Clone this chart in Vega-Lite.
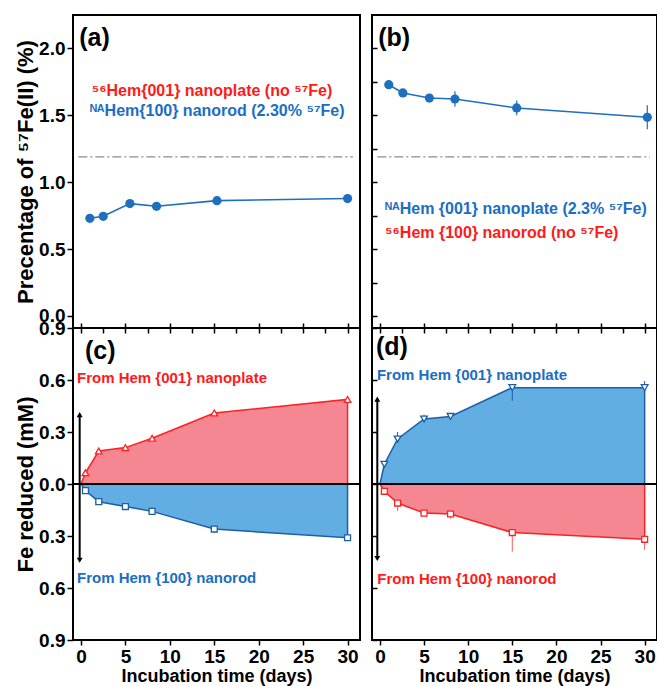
{
  "$schema": "https://vega.github.io/schema/vega-lite/v6.json",
  "padding": {"left": 13, "top": 14, "right": 0, "bottom": 0},
  "config": {
    "font": "Liberation Sans",
    "view": {"stroke": "black", "strokeWidth": 2},
    "axis": {"domain": false, "grid": false, "labelFont": "Liberation Sans", "labelFontSize": 19, "labelFontWeight": "bold", "labelColor": "black", "titleFont": "Liberation Sans", "titleFontSize": 22, "titleFontWeight": "bold", "titleColor": "black", "tickColor": "black", "tickWidth": 1.5, "labelFlush": false}
  },
  "datasets": {
    "a": [{"d": 1, "v": 0.73, "lo": 0.70, "hi": 0.76}, {"d": 2.5, "v": 0.745, "lo": 0.73, "hi": 0.76}, {"d": 5.5, "v": 0.84, "lo": 0.83, "hi": 0.85}, {"d": 8.5, "v": 0.82, "lo": 0.805, "hi": 0.835}, {"d": 15.3, "v": 0.862, "lo": 0.852, "hi": 0.872}, {"d": 30, "v": 0.878, "lo": 0.868, "hi": 0.888}],
    "b": [{"d": 1, "v": 1.729, "lo": 1.71, "hi": 1.75}, {"d": 2.6, "v": 1.667, "lo": 1.652, "hi": 1.682}, {"d": 5.6, "v": 1.629, "lo": 1.6, "hi": 1.655}, {"d": 8.5, "v": 1.622, "lo": 1.565, "hi": 1.68}, {"d": 15.5, "v": 1.555, "lo": 1.5, "hi": 1.61}, {"d": 30.3, "v": 1.485, "lo": 1.395, "hi": 1.575}],
    "ref": [{"d": -0.3, "d2": 30.6, "v": 1.19}],
    "c_plate": [{"d": 0, "v": 0}, {"d": 0.5, "v": 0.065}, {"d": 2, "v": 0.19}, {"d": 5, "v": 0.21}, {"d": 8, "v": 0.264}, {"d": 15, "v": 0.41}, {"d": 30, "v": 0.488}],
    "c_rod": [{"d": 0, "v": 0}, {"d": 0.5, "v": -0.038}, {"d": 2, "v": -0.102}, {"d": 5, "v": -0.13}, {"d": 8, "v": -0.158}, {"d": 15, "v": -0.26}, {"d": 30, "v": -0.31}],
    "d_plate": [{"d": 0, "v": 0}, {"d": 0.5, "v": 0.114}, {"d": 2, "v": 0.26}, {"d": 5, "v": 0.375}, {"d": 8, "v": 0.39}, {"d": 15, "v": 0.556}, {"d": 30, "v": 0.556}],
    "d_rod": [{"d": 0, "v": 0}, {"d": 0.5, "v": -0.042}, {"d": 2, "v": -0.11}, {"d": 5, "v": -0.168}, {"d": 8, "v": -0.173}, {"d": 15, "v": -0.28}, {"d": 30, "v": -0.319}],
    "d_plate_err": [{"d": 2, "lo": 0.24, "hi": 0.3}, {"d": 5, "lo": 0.36, "hi": 0.4}, {"d": 8, "lo": 0.37, "hi": 0.41}, {"d": 15, "lo": 0.48, "hi": 0.556}, {"d": 30, "lo": 0.54, "hi": 0.594}],
    "d_rod_err": [{"d": 2, "lo": -0.156, "hi": -0.11}, {"d": 5, "lo": -0.19, "hi": -0.168}, {"d": 8, "lo": -0.2, "hi": -0.173}, {"d": 15, "lo": -0.39, "hi": -0.28}, {"d": 30, "lo": -0.38, "hi": -0.319}]
  },
  "columns": 2,
  "spacing": {"row": 0, "column": 12},
  "bounds": "flush",
  "concat": [
        {
          "width": 287,
          "height": 313,
          "resolve": {"axis": {"x": "independent", "y": "independent"}},
          "layer": [
            {"data": {"name": "ref"}, "mark": {"type": "rule", "color": "#8c8c8c", "strokeWidth": 1.2, "strokeDash": [9, 3, 2, 3]},
             "encoding": {"x": {"field": "d", "type": "quantitative", "scale": {"domain": [-0.9, 31.4], "nice": false, "zero": false},
                                "axis": {"orient": "bottom", "title": null, "labels": false, "values": [0, 5, 10, 15, 20, 25, 30], "tickSize": 5, "offset": -5, "minExtent": 0, "maxExtent": 0}}, "x2": {"field": "d2"},
                          "y": {"field": "v", "type": "quantitative", "scale": {"domain": [-0.09, 2.25], "nice": false, "zero": false},
                                "axis": {"title": "Precentage of ⁵⁷Fe(II) (%)", "values": [0, 0.5, 1, 1.5, 2], "format": ".1f", "tickSize": 6, "labelPadding": 2, "titlePadding": 1, "minExtent": 35, "maxExtent": 35}}}},
            {"data": {"name": "a"}, "mark": {"type": "line", "color": "#1f6fbf", "strokeWidth": 1.6},
             "encoding": {"x": {"field": "d", "type": "quantitative", "axis": null}, "y": {"field": "v", "type": "quantitative", "axis": null}}},
            {"data": {"name": "a"}, "mark": {"type": "rule", "color": "#1f6fbf", "strokeWidth": 1.2},
             "encoding": {"x": {"field": "d", "type": "quantitative", "axis": null}, "y": {"field": "lo", "type": "quantitative", "axis": null}, "y2": {"field": "hi"}}},
            {"data": {"name": "a"}, "mark": {"type": "point", "filled": true, "color": "#1f6fbf", "size": 85, "opacity": 1},
             "encoding": {"x": {"field": "d", "type": "quantitative", "axis": null}, "y": {"field": "v", "type": "quantitative", "axis": null}}},
            {"data": {"values": [{"d": -0.2, "v": 2.078, "t": "(a)"}]}, "mark": {"type": "text", "align": "left", "baseline": "middle", "fontSize": 25, "fontWeight": "bold", "color": "black"},
             "encoding": {"x": {"field": "d", "type": "quantitative", "axis": null}, "y": {"field": "v", "type": "quantitative", "axis": null}, "text": {"field": "t"}}},
            {"data": {"values": [{"d": 1.2, "v": 1.68, "t": "⁵⁶Hem{001} nanoplate (no ⁵⁷Fe)"}]}, "mark": {"type": "text", "align": "left", "baseline": "middle", "fontSize": 16, "fontWeight": "bold", "color": "#ff1a1a"},
             "encoding": {"x": {"field": "d", "type": "quantitative", "axis": null}, "y": {"field": "v", "type": "quantitative", "axis": null}, "text": {"field": "t"}}},
            {"data": {"values": [{"d": 1.0, "v": 1.53, "t": "ᴺᴬHem{100} nanorod (2.30% ⁵⁷Fe)"}]}, "mark": {"type": "text", "align": "left", "baseline": "middle", "fontSize": 16, "fontWeight": "bold", "color": "#1b6ec2"},
             "encoding": {"x": {"field": "d", "type": "quantitative", "axis": null}, "y": {"field": "v", "type": "quantitative", "axis": null}, "text": {"field": "t"}}}
          ]
        },
        {
          "width": 285,
          "height": 313,
          "resolve": {"axis": {"x": "independent", "y": "independent"}},
          "layer": [
            {"data": {"name": "ref"}, "mark": {"type": "rule", "color": "#8c8c8c", "strokeWidth": 1.2, "strokeDash": [9, 3, 2, 3]},
             "encoding": {"x": {"field": "d", "type": "quantitative", "scale": {"domain": [-0.9, 31.4], "nice": false, "zero": false},
                                "axis": {"orient": "bottom", "title": null, "labels": false, "values": [0, 5, 10, 15, 20, 25, 30], "tickSize": 5, "offset": -5, "minExtent": 0, "maxExtent": 0}}, "x2": {"field": "d2"},
                          "y": {"field": "v", "type": "quantitative", "scale": {"domain": [-0.09, 2.25], "nice": false, "zero": false},
                                "axis": {"title": null, "labels": false, "values": [0, 0.25, 0.5, 0.75, 1, 1.25, 1.5, 1.75, 2], "tickSize": 5, "offset": -5, "minExtent": 0, "maxExtent": 0}}}},
            {"data": {"name": "b"}, "mark": {"type": "line", "color": "#1f6fbf", "strokeWidth": 1.6},
             "encoding": {"x": {"field": "d", "type": "quantitative", "axis": null}, "y": {"field": "v", "type": "quantitative", "axis": null}}},
            {"data": {"name": "b"}, "mark": {"type": "rule", "color": "#1f6fbf", "strokeWidth": 1.2},
             "encoding": {"x": {"field": "d", "type": "quantitative", "axis": null}, "y": {"field": "lo", "type": "quantitative", "axis": null}, "y2": {"field": "hi"}}},
            {"data": {"name": "b"}, "mark": {"type": "point", "filled": true, "color": "#1f6fbf", "size": 85, "opacity": 1},
             "encoding": {"x": {"field": "d", "type": "quantitative", "axis": null}, "y": {"field": "v", "type": "quantitative", "axis": null}}},
            {"data": {"values": [{"d": -0.2, "v": 2.078, "t": "(b)"}]}, "mark": {"type": "text", "align": "left", "baseline": "middle", "fontSize": 25, "fontWeight": "bold", "color": "black"},
             "encoding": {"x": {"field": "d", "type": "quantitative", "axis": null}, "y": {"field": "v", "type": "quantitative", "axis": null}, "text": {"field": "t"}}},
            {"data": {"values": [{"d": 0.57, "v": 0.80, "t": "ᴺᴬHem {001} nanoplate (2.3% ⁵⁷Fe)"}]}, "mark": {"type": "text", "align": "left", "baseline": "middle", "fontSize": 16, "fontWeight": "bold", "color": "#1b6ec2"},
             "encoding": {"x": {"field": "d", "type": "quantitative", "axis": null}, "y": {"field": "v", "type": "quantitative", "axis": null}, "text": {"field": "t"}}},
            {"data": {"values": [{"d": 0.57, "v": 0.62, "t": "⁵⁶Hem {100} nanorod (no ⁵⁷Fe)"}]}, "mark": {"type": "text", "align": "left", "baseline": "middle", "fontSize": 16, "fontWeight": "bold", "color": "#ff1a1a"},
             "encoding": {"x": {"field": "d", "type": "quantitative", "axis": null}, "y": {"field": "v", "type": "quantitative", "axis": null}, "text": {"field": "t"}}}
          ]
        },
        {
          "width": 287,
          "height": 312,
          "resolve": {"axis": {"x": "independent", "y": "independent"}},
          "layer": [
            {"data": {"name": "c_plate"}, "mark": {"type": "area", "color": "#f58793", "opacity": 1, "stroke": "#ff2020", "strokeWidth": 1.5},
             "encoding": {"x": {"field": "d", "type": "quantitative", "scale": {"domain": [-0.9, 31.4], "nice": false, "zero": false},
                                "axis": {"title": "Incubation time (days)", "titleFontSize": 18, "values": [0, 5, 10, 15, 20, 25, 30], "tickSize": 5, "labelPadding": 2, "titlePadding": 1}},
                          "y": {"field": "v", "type": "quantitative", "scale": {"domain": [-0.9, 0.9], "nice": false, "zero": false},
                                "axis": {"title": "Fe reduced (mM)", "values": [-0.9, -0.6, -0.3, 0, 0.3, 0.6, 0.9], "labelExpr": "format(abs(datum.value), '.1f')", "tickSize": 6, "labelPadding": 2, "titlePadding": 1, "minExtent": 35, "maxExtent": 35}},
                          "y2": {"datum": 0}}},
            {"data": {"name": "c_rod"}, "mark": {"type": "area", "color": "#62ade2", "opacity": 1, "stroke": "#1a5fa8", "strokeWidth": 1.5},
             "encoding": {"x": {"field": "d", "type": "quantitative", "axis": null}, "y": {"field": "v", "type": "quantitative", "axis": null}, "y2": {"datum": 0}}},
            {"data": {"values": [{"v": 0}]}, "mark": {"type": "rule", "color": "black", "strokeWidth": 2},
             "encoding": {"y": {"field": "v", "type": "quantitative", "axis": null}}},
            {"data": {"values": [{"d": -0.15, "v1": -0.44, "v2": 0.40}]}, "mark": {"type": "rule", "color": "black", "strokeWidth": 2},
             "encoding": {"x": {"field": "d", "type": "quantitative", "axis": null}, "y": {"field": "v1", "type": "quantitative", "axis": null}, "y2": {"field": "v2"}}},
            {"data": {"values": [{"d": -0.15, "v": 0.40, "dir": "up"}, {"d": -0.15, "v": -0.44, "dir": "down"}]}, "mark": {"type": "point", "filled": true, "color": "black", "size": 35, "opacity": 1},
             "encoding": {"x": {"field": "d", "type": "quantitative", "axis": null}, "y": {"field": "v", "type": "quantitative", "axis": null},
                          "shape": {"field": "dir", "type": "nominal", "scale": {"domain": ["up", "down"], "range": ["triangle-up", "triangle-down"]}, "legend": null}}},
            {"data": {"name": "c_plate"}, "transform": [{"filter": "datum.d > 0"}], "mark": {"type": "point", "shape": "triangle-up", "filled": true, "fill": "white", "stroke": "#ff2020", "strokeWidth": 1.3, "size": 45, "opacity": 1},
             "encoding": {"x": {"field": "d", "type": "quantitative",
                                "axis": {"orient": "top", "title": null, "labels": false, "values": [0, 2.5, 5, 7.5, 10, 12.5, 15, 17.5, 20, 22.5, 25, 27.5, 30], "tickSize": 5, "offset": -5, "minExtent": 0, "maxExtent": 0}},
                          "y": {"field": "v", "type": "quantitative", "axis": null}}},
            {"data": {"name": "c_rod"}, "transform": [{"filter": "datum.d > 0"}], "mark": {"type": "point", "shape": "square", "filled": true, "fill": "white", "stroke": "#1a5fa8", "strokeWidth": 1.3, "size": 35, "opacity": 1},
             "encoding": {"x": {"field": "d", "type": "quantitative", "axis": null}, "y": {"field": "v", "type": "quantitative", "axis": null}}},
            {"data": {"values": [{"d": 0.45, "v": 0.767, "t": "(c)"}]}, "mark": {"type": "text", "align": "left", "baseline": "middle", "fontSize": 25, "fontWeight": "bold", "color": "black"},
             "encoding": {"x": {"field": "d", "type": "quantitative", "axis": null}, "y": {"field": "v", "type": "quantitative", "axis": null}, "text": {"field": "t"}}},
            {"data": {"values": [{"d": -0.45, "v": 0.61, "t": "From Hem {001} nanoplate"}]}, "mark": {"type": "text", "align": "left", "baseline": "middle", "fontSize": 15, "fontWeight": "bold", "color": "#ff1a1a"},
             "encoding": {"x": {"field": "d", "type": "quantitative", "axis": null}, "y": {"field": "v", "type": "quantitative", "axis": null}, "text": {"field": "t"}}},
            {"data": {"values": [{"d": -0.45, "v": -0.54, "t": "From Hem {100} nanorod"}]}, "mark": {"type": "text", "align": "left", "baseline": "middle", "fontSize": 15, "fontWeight": "bold", "color": "#1b6ec2"},
             "encoding": {"x": {"field": "d", "type": "quantitative", "axis": null}, "y": {"field": "v", "type": "quantitative", "axis": null}, "text": {"field": "t"}}}
          ]
        },
        {
          "width": 285,
          "height": 312,
          "resolve": {"axis": {"x": "independent", "y": "independent"}},
          "layer": [
            {"data": {"name": "d_plate"}, "mark": {"type": "area", "color": "#62ade2", "opacity": 1, "stroke": "#1a5fa8", "strokeWidth": 1.5},
             "encoding": {"x": {"field": "d", "type": "quantitative", "scale": {"domain": [-0.9, 31.4], "nice": false, "zero": false},
                                "axis": {"title": "Incubation time (days)", "titleFontSize": 18, "values": [0, 5, 10, 15, 20, 25, 30], "tickSize": 5, "labelPadding": 2, "titlePadding": 1}},
                          "y": {"field": "v", "type": "quantitative", "scale": {"domain": [-0.9, 0.9], "nice": false, "zero": false},
                                "axis": {"title": null, "labels": false, "values": [-0.9, -0.6, -0.3, 0, 0.3, 0.6, 0.9], "tickSize": 5, "offset": -5, "minExtent": 0, "maxExtent": 0}},
                          "y2": {"datum": 0}}},
            {"data": {"name": "d_rod"}, "mark": {"type": "area", "color": "#f58793", "opacity": 1, "stroke": "#ff2020", "strokeWidth": 1.5},
             "encoding": {"x": {"field": "d", "type": "quantitative", "axis": null}, "y": {"field": "v", "type": "quantitative", "axis": null}, "y2": {"datum": 0}}},
            {"data": {"name": "d_plate_err"}, "mark": {"type": "rule", "color": "#1a5fa8", "strokeWidth": 1},
             "encoding": {"x": {"field": "d", "type": "quantitative", "axis": null}, "y": {"field": "lo", "type": "quantitative", "axis": null}, "y2": {"field": "hi"}}},
            {"data": {"name": "d_rod_err"}, "mark": {"type": "rule", "color": "#ff5a5a", "strokeWidth": 1},
             "encoding": {"x": {"field": "d", "type": "quantitative", "axis": null}, "y": {"field": "lo", "type": "quantitative", "axis": null}, "y2": {"field": "hi"}}},
            {"data": {"values": [{"v": 0}]}, "mark": {"type": "rule", "color": "black", "strokeWidth": 2},
             "encoding": {"y": {"field": "v", "type": "quantitative", "axis": null}}},
            {"data": {"values": [{"d": -0.3, "v1": -0.43, "v2": 0.49}]}, "mark": {"type": "rule", "color": "black", "strokeWidth": 2},
             "encoding": {"x": {"field": "d", "type": "quantitative", "axis": null}, "y": {"field": "v1", "type": "quantitative", "axis": null}, "y2": {"field": "v2"}}},
            {"data": {"values": [{"d": -0.3, "v": 0.49, "dir": "up"}, {"d": -0.3, "v": -0.43, "dir": "down"}]}, "mark": {"type": "point", "filled": true, "color": "black", "size": 35, "opacity": 1},
             "encoding": {"x": {"field": "d", "type": "quantitative", "axis": null}, "y": {"field": "v", "type": "quantitative", "axis": null},
                          "shape": {"field": "dir", "type": "nominal", "scale": {"domain": ["up", "down"], "range": ["triangle-up", "triangle-down"]}, "legend": null}}},
            {"data": {"name": "d_plate"}, "transform": [{"filter": "datum.d > 0"}], "mark": {"type": "point", "shape": "triangle-down", "filled": true, "fill": "white", "stroke": "#1a5fa8", "strokeWidth": 1.3, "size": 45, "opacity": 1},
             "encoding": {"x": {"field": "d", "type": "quantitative",
                                "axis": {"orient": "top", "title": null, "labels": false, "values": [0, 2.5, 5, 7.5, 10, 12.5, 15, 17.5, 20, 22.5, 25, 27.5, 30], "tickSize": 5, "offset": -5, "minExtent": 0, "maxExtent": 0}},
                          "y": {"field": "v", "type": "quantitative", "axis": null}}},
            {"data": {"name": "d_rod"}, "transform": [{"filter": "datum.d > 0"}], "mark": {"type": "point", "shape": "square", "filled": true, "fill": "white", "stroke": "#ff2020", "strokeWidth": 1.3, "size": 35, "opacity": 1},
             "encoding": {"x": {"field": "d", "type": "quantitative", "axis": null}, "y": {"field": "v", "type": "quantitative", "axis": null}}},
            {"data": {"values": [{"d": -0.45, "v": 0.79, "t": "(d)"}]}, "mark": {"type": "text", "align": "left", "baseline": "middle", "fontSize": 25, "fontWeight": "bold", "color": "black"},
             "encoding": {"x": {"field": "d", "type": "quantitative", "axis": null}, "y": {"field": "v", "type": "quantitative", "axis": null}, "text": {"field": "t"}}},
            {"data": {"values": [{"d": -0.34, "v": 0.63, "t": "From Hem {001} nanoplate"}]}, "mark": {"type": "text", "align": "left", "baseline": "middle", "fontSize": 15, "fontWeight": "bold", "color": "#1b6ec2"},
             "encoding": {"x": {"field": "d", "type": "quantitative", "axis": null}, "y": {"field": "v", "type": "quantitative", "axis": null}, "text": {"field": "t"}}},
            {"data": {"values": [{"d": -0.3, "v": -0.55, "t": "From Hem {100} nanorod"}]}, "mark": {"type": "text", "align": "left", "baseline": "middle", "fontSize": 15, "fontWeight": "bold", "color": "#ff1a1a"},
             "encoding": {"x": {"field": "d", "type": "quantitative", "axis": null}, "y": {"field": "v", "type": "quantitative", "axis": null}, "text": {"field": "t"}}}
          ]
        }
  ]
}
